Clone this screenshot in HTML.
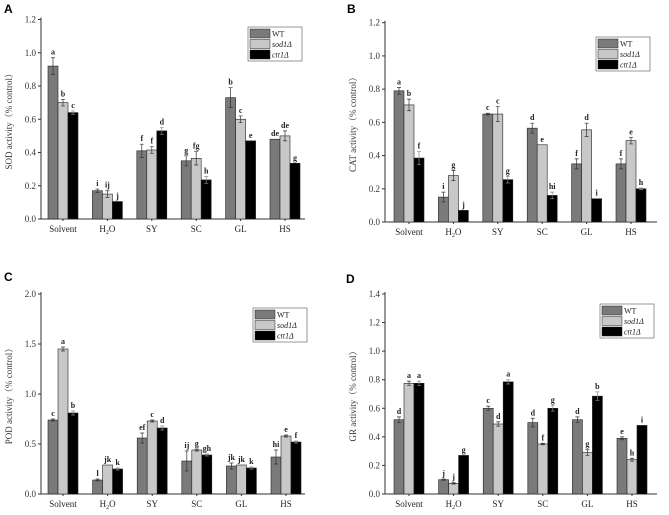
<!DOCTYPE html>
<html><head><meta charset="utf-8">
<style>
body{margin:0;background:#fff;}
svg{display:block;font-family:"Liberation Serif","Noto Serif CJK SC",serif;}
.pl{font-family:"Liberation Sans",sans-serif;font-weight:bold;font-size:12px;}
</style></head>
<body>
<svg id="c" width="669" height="515" viewBox="0 0 669 515"></svg>
<script>
const categories=["Solvent","H2O","SY","SC","GL","HS"];
const seriesNames=["WT","sod1Δ","ctt1Δ"];
// Panel A SOD
const sodWT=[0.92,0.17,0.41,0.35,0.73,0.48];
const sodSod=[0.70,0.15,0.415,0.365,0.60,0.50];
const sodCtt=[0.64,0.105,0.53,0.235,0.47,0.335];
const sodErrWT=[0.05,0.01,0.04,0.03,0.06,0];
const sodErrSod=[0.02,0.02,0.02,0.04,0.02,0.03];
const sodErrCtt=[0.01,0,0.02,0.02,0,0];
const sodLetWT=["a","i","f","g","b","de"];
const sodLetSod=["b","ij","f","fg","c","de"];
const sodLetCtt=["c","j","d","h","e","g"];
const sodTicks=[0,0.2,0.4,0.6,0.8,1.0,1.2];
// Panel B CAT
const catWT=[0.79,0.15,0.65,0.565,0.35,0.35];
const catSod=[0.705,0.28,0.65,0.465,0.555,0.49];
const catCtt=[0.385,0.07,0.255,0.16,0.14,0.20];
const catErrWT=[0.02,0.03,0.005,0.03,0.03,0.03];
const catErrSod=[0.035,0.03,0.045,0,0.04,0.02];
const catErrCtt=[0.04,0,0.02,0.02,0,0.005];
const catLetWT=["a","i","c","d","f","f"];
const catLetSod=["b","g","c","e","d","e"];
const catLetCtt=["f","j","g","hi","i","h"];
const catTicks=[0,0.2,0.4,0.6,0.8,1.0,1.2];
// Panel C POD
const podWT=[0.74,0.14,0.56,0.33,0.28,0.37];
const podSod=[1.45,0.29,0.73,0.44,0.29,0.58];
const podCtt=[0.81,0.25,0.66,0.39,0.26,0.52];
const podErrWT=[0.01,0.01,0.05,0.1,0.03,0.07];
const podErrSod=[0.02,0,0.01,0.01,0,0.01];
const podErrCtt=[0.02,0.01,0.02,0.01,0.01,0.01];
const podLetWT=["c","l","ef","ij","jk","hi"];
const podLetSod=["a","jk","c","g","jk","e"];
const podLetCtt=["b","k","d","gh","k","f"];
const podTicks=[0,0.5,1.0,1.5,2.0];
// Panel D GR
const grWT=[0.52,0.10,0.60,0.50,0.52,0.39];
const grSod=[0.775,0.075,0.49,0.35,0.29,0.24];
const grCtt=[0.775,0.27,0.785,0.60,0.685,0.48];
const grErrWT=[0.02,0.005,0.015,0.03,0.02,0.01];
const grErrSod=[0.015,0.005,0.015,0.005,0.02,0.01];
const grErrCtt=[0.015,0,0.015,0.02,0.03,0];
const grLetWT=["d","j","c","d","d","e"];
const grLetSod=["a","j","d","f","g","h"];
const grLetCtt=["a","g","a","g","b","i"];
const grTicks=[0,0.2,0.4,0.6,0.8,1.0,1.2,1.4];

const NS="http://www.w3.org/2000/svg";
const svg=document.getElementById("c");
const colors=["#7a7a7a","#c8c8c8","#000"];
function mk(tag,attrs,parent,text){const e=document.createElementNS(NS,tag);for(const k in attrs)e.setAttribute(k,attrs[k]);if(text!==undefined)e.textContent=text;(parent||svg).appendChild(e);return e;}

function panel(p){
  const g=mk("g",{});
  
  
  const ymax=p.ticks[p.ticks.length-1];
  const y=v=>p.y0-(v/ymax)*(p.y0-p.yTop);
  const x=i=>p.cx0+i*p.step;
  const lab=mk("text",{x:p.lx,y:p.ly,class:"pl"},g,p.label);
  
  
  // axes
  const ax=mk("path",{d:`M${p.ax},${p.yTop-2}V${p.y0}H${p.xr}`,stroke:"#333",fill:"none","stroke-width":1},g);
  
  
  p.ticks.forEach(t=>{
    mk("line",{x1:p.ax-3,x2:p.ax,y1:y(t),y2:y(t),stroke:"#333"},g);
    const tl=mk("text",{x:p.ax-5,y:y(t)+3,"text-anchor":"end","font-size":9,fill:"#333"},g,t.toFixed(1));
    
    
  });
  const yl=mk("text",{x:0,y:0,transform:`translate(${p.ax-29},${(p.y0+p.yTop)/2}) rotate(-90)`,"text-anchor":"middle","font-size":9,fill:"#333"},g,p.ytitle);
  
  
  const bw=10;
  const sets=[[p.d[0],p.e[0],p.l[0]],[p.d[1],p.e[1],p.l[1]],[p.d[2],p.e[2],p.l[2]]];
  categories.forEach((c,i)=>{
    const cl=mk("text",{x:x(i),y:p.y0+13,"text-anchor":"middle","font-size":9,fill:"#222"},g);
    
    
    if(c==="H2O"){cl.innerHTML='H<tspan font-size="6" dy="2">2</tspan><tspan dy="-2">O</tspan>';}else cl.textContent=c;
    mk("line",{x1:x(i),x2:x(i),y1:p.y0,y2:p.y0+2,stroke:"#333"},g);
    sets.forEach((s,k)=>{
      const v=s[0][i],er=s[1][i];
      const bx=x(i)-1.5*bw+k*bw;
      const r=mk("rect",{x:bx,y:y(v),width:bw,height:p.y0-y(v),fill:colors[k],stroke:"#222","stroke-width":0.6},g);
      
      
      if(er>0){
        const cx=bx+bw/2;
        mk("path",{d:`M${cx},${y(v+er)}V${y(v-er)}M${cx-2},${y(v+er)}h4M${cx-2},${y(v-er)}h4`,stroke:k==2?"#888":"#333","stroke-width":0.7,fill:"none"},g);
      }
      const lt=mk("text",{x:bx+bw/2,y:y(v+er)-3,"text-anchor":"middle","font-size":8,"font-weight":"bold",fill:"#222"},g,s[2][i]);
      
      
    });
  });
  // legend
  const L=mk("g",{},g);
  
  
  mk("rect",{x:p.lgx,y:p.lgy,width:54,height:34,fill:"#fff",stroke:"#555","stroke-width":0.6},L);
  seriesNames.forEach((n,k)=>{
    mk("rect",{x:p.lgx+2,y:p.lgy+2+k*10.5,width:20,height:9,fill:colors[k],stroke:"#222","stroke-width":0.5},L);
    const t=mk("text",{x:p.lgx+24,y:p.lgy+9.5+k*10.5,"font-size":8,"font-style":k?"italic":"normal",fill:"#222"},L,n);
    
    
  });
}
panel({id:"sod",label:"A",lx:4,ly:13,ax:41,xr:305,y0:219,yTop:19.5,cx0:63,step:44.4,ticks:sodTicks,ytitle:"SOD activity（% control）",d:[sodWT,sodSod,sodCtt],e:[sodErrWT,sodErrSod,sodErrCtt],l:[sodLetWT,sodLetSod,sodLetCtt],lgx:248,lgy:27});
panel({id:"cat",label:"B",lx:347,ly:13,ax:385,xr:657,y0:222,yTop:22.7,cx0:409,step:44.4,ticks:catTicks,ytitle:"CAT activity（% control）",d:[catWT,catSod,catCtt],e:[catErrWT,catErrSod,catErrCtt],l:[catLetWT,catLetSod,catLetCtt],lgx:596,lgy:37});
panel({id:"pod",label:"C",lx:4,ly:281,ax:41,xr:305,y0:494,yTop:294,cx0:63,step:44.6,ticks:podTicks,ytitle:"POD activity（% control）",d:[podWT,podSod,podCtt],e:[podErrWT,podErrSod,podErrCtt],l:[podLetWT,podLetSod,podLetCtt],lgx:253,lgy:308});
panel({id:"gr",label:"D",lx:346,ly:283,ax:385,xr:657,y0:494,yTop:294,cx0:409,step:44.6,ticks:grTicks,ytitle:"GR activity（% control）",d:[grWT,grSod,grCtt],e:[grErrWT,grErrSod,grErrCtt],l:[grLetWT,grLetSod,grLetCtt],lgx:600,lgy:304});
</script>
</body></html>
